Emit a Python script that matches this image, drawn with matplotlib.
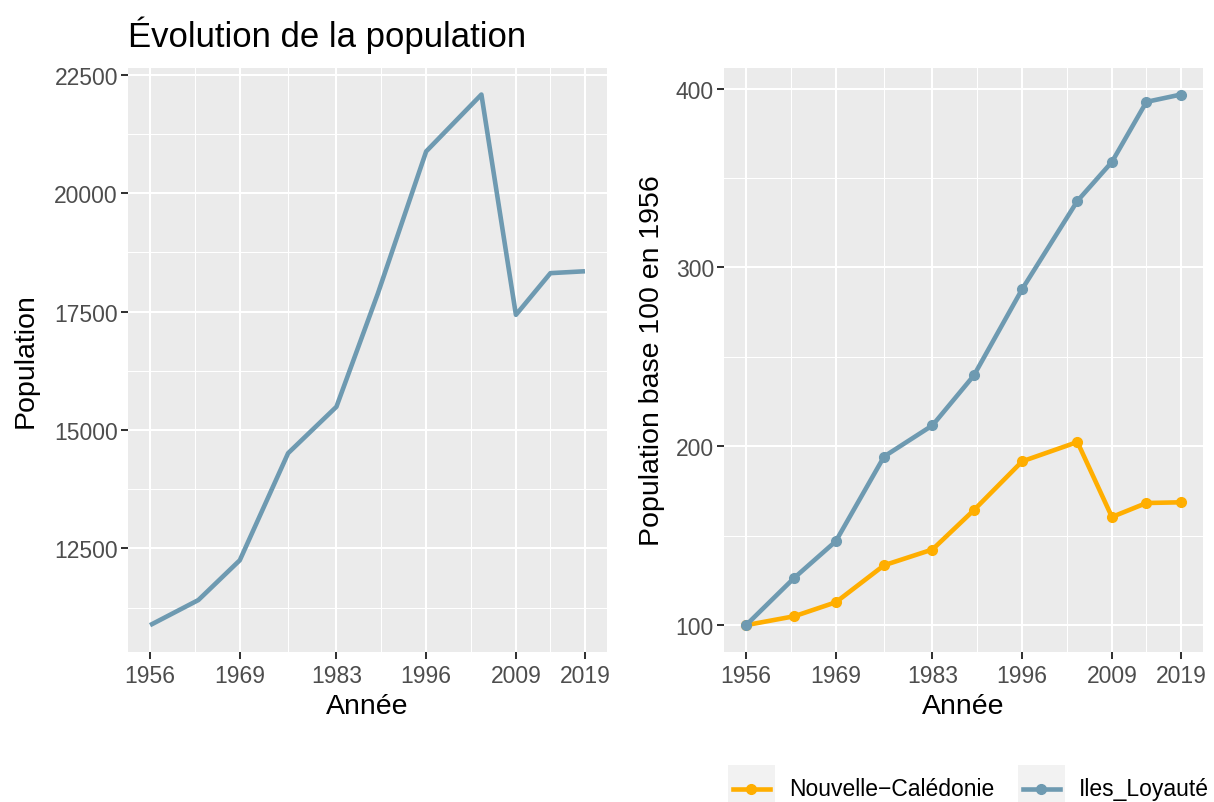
import matplotlib
matplotlib.use("Agg")
import matplotlib.pyplot as plt
from matplotlib.patches import Rectangle
from matplotlib.lines import Line2D

plt.rcParams['font.family'] = ['Liberation Sans', 'DejaVu Sans']

# data
years = [1956, 1963, 1969, 1976, 1983, 1989, 1996, 2004, 2009, 2014, 2019]
population = [10880, 11410, 12250, 14510, 15490, 17880, 20880, 22080, 17430, 18310, 18350]
idx_nc = [100, 105.0, 112.8, 133.5, 142.3, 164.3, 191.6, 202.4, 160.5, 168.3, 168.7]
idx_il = [100, 126.5, 146.9, 194.3, 211.7, 239.6, 287.9, 337.2, 359.0, 392.6, 396.7]

x_breaks = [1956, 1969, 1983, 1996, 2009, 2019]
x_minor = [1962.5, 1976, 1989.5, 2002.5, 2014]
left_breaks = [12500, 15000, 17500, 20000, 22500]
left_minor = [11250, 13750, 16250, 18750, 21250]
right_breaks = [100, 200, 300, 400]
right_minor = [150, 250, 350]

series_names = ['Nouvelle\u2212Calédonie', 'Iles_Loyauté']
c_orange = '#FFAE00'
c_blue = '#6E9AB1'
lw = 3.3
ms = 7

W, H = 1214, 803
fig = plt.figure(figsize=(W / 100, H / 100), dpi=100)


def px(x0, y0, x1, y1):
    return [x0 / W, 1 - y1 / H, (x1 - x0) / W, (y1 - y0) / H]


def gg_style(ax, xb, xm, yb, ym):
    ax.set_facecolor('#EBEBEB')
    for s in ax.spines.values():
        s.set_visible(False)
    ax.set_xticks(xb)
    ax.set_xticks(xm, minor=True)
    ax.set_yticks(yb)
    ax.set_yticks(ym, minor=True)
    ax.grid(which='major', color='white', linewidth=1.45)
    ax.grid(which='minor', color='white', linewidth=0.75)
    ax.set_axisbelow(True)
    ax.tick_params(which='major', length=5, width=1.45, color='#333333',
                   labelsize=16.5, labelcolor='#4D4D4D', pad=2.5)
    ax.tick_params(axis='x', which='major', pad=4)
    ax.tick_params(which='minor', length=0)


def expand(vals, f=0.05):
    lo, hi = min(vals), max(vals)
    d = (hi - lo) * f
    return lo - d, hi + d


# left panel
ax1 = fig.add_axes(px(128.3, 69, 606.7, 652.7))
gg_style(ax1, x_breaks, x_minor, left_breaks, left_minor)
ax1.plot(years, population, color=c_blue, linewidth=lw, solid_capstyle='butt')
ax1.set_xlim(*expand(years))
ax1.set_ylim(*expand(population))
ax1.set_xlabel('Année', fontsize=20.5, labelpad=4)
ax1.set_ylabel('Population', fontsize=20.5, labelpad=11)
fig.text(128.3 / W, 1 - 35 / H, 'Évolution de la population', fontsize=25,
         ha='left', va='center')

# right panel
ax2 = fig.add_axes(px(724.3, 69, 1202.7, 652.7))
gg_style(ax2, x_breaks, x_minor, right_breaks, right_minor)
ax2.plot(years, idx_nc, color=c_orange, linewidth=lw, marker='o', markersize=ms)
ax2.plot(years, idx_il, color=c_blue, linewidth=lw, marker='o', markersize=ms)
ax2.set_xlim(*expand(years))
ax2.set_ylim(*expand(idx_nc + idx_il))
ax2.set_xlabel('Année', fontsize=20.5, labelpad=4)
ax2.set_ylabel('Population base 100 en 1956', fontsize=20.5, labelpad=8)

# legend drawn by hand (ggplot style keys, clipped at the bottom)
lg = fig.add_axes([0, 0, 1, 1], facecolor='none')
lg.set_xlim(0, W)
lg.set_ylim(H, 0)
lg.axis('off')
keys = [(728, c_orange, series_names[0]), (1018, c_blue, series_names[1])]
for kx, col, name in keys:
    lg.add_patch(Rectangle((kx, 766), 46.5, 47, facecolor='#F2F2F2', edgecolor='none'))
    lg.add_line(Line2D([kx + 4.5, kx + 42], [789.5, 789.5], color=col, linewidth=lw))
    lg.plot([kx + 23.25], [789.5], 'o', color=col, markersize=ms)
    lg.text(kx + 61, 789.5, name, fontsize=16.5, va='center', ha='left')

fig.savefig('out.png', dpi=100)
